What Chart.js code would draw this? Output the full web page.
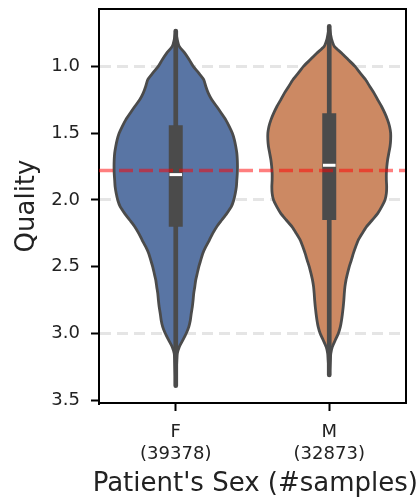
<!DOCTYPE html>
<html>
<head>
<meta charset="utf-8">
<script src="https://cdn.jsdelivr.net/npm/chart.js@4/dist/chart.umd.min.js"></script>
<style>
  html, body { margin: 0; padding: 0; background: #fff; }
  #wrap { width: 418px; height: 500px; position: relative; }
</style>
</head>
<body>
<div id="wrap"><canvas id="qualityChart"></canvas></div>
<script>
const categories = ['F', 'M'];
const sampleCounts = [39378, 32873];

// violin outlines: quality value -> half width (in category units)
const fQuality = [0.735, 0.80, 0.85, 0.90, 0.95, 1.00, 1.05, 1.10, 1.15, 1.20, 1.25, 1.30, 1.35, 1.40, 1.45,
  1.50, 1.55, 1.60, 1.65, 1.70, 1.75, 1.80, 1.85, 1.90, 1.95, 2.00, 2.05, 2.10, 2.15, 2.20, 2.25, 2.30,
  2.35, 2.40, 2.45, 2.50, 2.55, 2.60, 2.65, 2.70, 2.75, 2.80, 2.85, 2.90, 2.95, 3.00, 3.05, 3.10, 3.15,
  3.20, 3.30, 3.39];
const fHalfWidth = [0.000, 0.010, 0.023, 0.059, 0.088, 0.114, 0.150, 0.183, 0.196, 0.212, 0.235, 0.267, 0.297,
  0.326, 0.349, 0.369, 0.382, 0.391, 0.398, 0.401, 0.402, 0.401, 0.398, 0.395, 0.388, 0.378, 0.362, 0.333,
  0.300, 0.267, 0.241, 0.219, 0.196, 0.176, 0.163, 0.150, 0.140, 0.130, 0.124, 0.117, 0.113, 0.108, 0.101,
  0.095, 0.085, 0.068, 0.046, 0.023, 0.010, 0.007, 0.003, 0.000];

const mQuality = [0.70, 0.75, 0.80, 0.85, 0.90, 0.95, 1.00, 1.05, 1.10, 1.15, 1.20, 1.25, 1.30, 1.35, 1.40,
  1.45, 1.50, 1.55, 1.60, 1.65, 1.70, 1.75, 1.80, 1.85, 1.90, 1.95, 2.00, 2.05, 2.10, 2.15, 2.20, 2.25,
  2.30, 2.35, 2.40, 2.45, 2.50, 2.55, 2.60, 2.65, 2.70, 2.75, 2.80, 2.85, 2.90, 2.95, 3.00, 3.05, 3.10,
  3.15, 3.20, 3.31];
const mHalfWidth = [0.000, 0.007, 0.016, 0.033, 0.080, 0.124, 0.168, 0.202, 0.237, 0.264, 0.292, 0.316, 0.341,
  0.362, 0.380, 0.393, 0.400, 0.400, 0.396, 0.388, 0.380, 0.375, 0.372, 0.372, 0.374, 0.372, 0.363, 0.342,
  0.316, 0.280, 0.243, 0.215, 0.189, 0.172, 0.157, 0.144, 0.130, 0.119, 0.109, 0.102, 0.098, 0.095, 0.091,
  0.086, 0.080, 0.072, 0.059, 0.039, 0.020, 0.010, 0.007, 0.000];

// inner box stats per category
const q1 = [1.44, 1.35];
const medians = [1.81, 1.74];
const q3 = [2.20, 2.15];
const whiskerLow = [0.735, 0.70];
const whiskerHigh = [3.39, 3.31];

const meanQuality = 1.78;
const yTicks = [1.0, 1.5, 2.0, 2.5, 3.0, 3.5];
const gridValues = [1.0, 2.0, 3.0];

const violinColors = ['#5975a4', '#cc8963'];
const darkGray = '#4b4b4b';
const FONT = 'DejaVu Sans';

function outline(center, quality, halfWidth) {
  const right = quality.map((q, i) => ({x: center + halfWidth[i], y: q}));
  const left = quality.map((q, i) => ({x: center - halfWidth[i], y: q})).reverse();
  return right.concat(left);
}

const datasets = [];

// mean line on top of everything
datasets.push({
  data: [{x: -0.5, y: meanQuality}, {x: 1.5, y: meanQuality}],
  borderColor: 'rgba(255, 0, 0, 0.5)',
  borderWidth: 3.5,
  borderDash: [14, 6],
  order: 0
});

categories.forEach((cat, i) => {
  datasets.push({
    data: [{x: i - 0.041, y: medians[i]}, {x: i + 0.041, y: medians[i]}],
    borderColor: '#ffffff',
    borderWidth: 3,
    order: 1
  });
  datasets.push({
    data: [{x: i, y: q1[i]}, {x: i, y: q3[i]}],
    borderColor: darkGray,
    borderWidth: 14,
    order: 2
  });
  datasets.push({
    data: [{x: i, y: whiskerLow[i]}, {x: i, y: whiskerHigh[i]}],
    borderColor: darkGray,
    borderWidth: 4.7,
    borderCapStyle: 'round',
    order: 3
  });
});

datasets.push({
  data: outline(0, fQuality, fHalfWidth),
  backgroundColor: violinColors[0],
  borderColor: darkGray,
  borderWidth: 2.8,
  fill: 'shape',
  tension: 0.2,
  order: 4
});
datasets.push({
  data: outline(1, mQuality, mHalfWidth),
  backgroundColor: violinColors[1],
  borderColor: darkGray,
  borderWidth: 2.8,
  fill: 'shape',
  tension: 0.2,
  order: 4
});

// top and right spines
const frame = {
  id: 'frame',
  afterDatasetsDraw(chart) {
    const {ctx, chartArea: a} = chart;
    ctx.save();
    ctx.strokeStyle = '#000';
    ctx.lineWidth = 2;
    ctx.beginPath();
    ctx.moveTo(a.left, a.top);
    ctx.lineTo(a.right, a.top);
    ctx.lineTo(a.right, a.bottom);
    ctx.stroke();
    ctx.restore();
  }
};

new Chart(document.getElementById('qualityChart'), {
  type: 'scatter',
  data: {datasets: datasets.map(d => Object.assign({showLine: true, pointRadius: 0, pointHoverRadius: 0}, d))},
  options: {
    responsive: true,
    maintainAspectRatio: false,
    animation: false,
    layout: {padding: {top: 9, right: 0, left: 0, bottom: 0}},
    plugins: {
      legend: {display: false},
      tooltip: {enabled: false},
      // x axis caption, wider than the plot so it goes through the title plugin
      title: {
        display: true,
        position: 'bottom',
        align: 'end',
        text: "Patient's Sex (#samples)",
        color: '#222',
        font: {family: FONT, size: 26, weight: 'normal', lineHeight: 1.2},
        padding: {top: 0, bottom: 0}
      }
    },
    scales: {
      x: {
        type: 'linear',
        min: -0.5,
        max: 1.5,
        afterBuildTicks: s => { s.ticks = categories.map((c, i) => ({value: i})); },
        afterFit: s => { s.height = 65.8; s.paddingLeft = 0; s.paddingRight = 0; },
        grid: {drawOnChartArea: false, tickLength: 8, tickWidth: 2, tickColor: '#000'},
        border: {color: '#000', width: 2},
        ticks: {
          color: '#222',
          font: {family: FONT, size: 18, lineHeight: 1.2},
          padding: 11,
          maxRotation: 0,
          callback: v => [categories[v], '(' + sampleCounts[v] + ')']
        }
      },
      y: {
        type: 'linear',
        reverse: true,
        min: 0.57,
        max: 3.52,
        afterBuildTicks: s => { s.ticks = yTicks.map(v => ({value: v})); },
        afterFit: s => { s.width = 99; s.paddingTop = 0; s.paddingBottom = 0; },
        grid: {
          color: c => gridValues.includes(c.tick && c.tick.value) ? '#e5e5e5' : 'rgba(0,0,0,0)',
          lineWidth: 3,
          tickLength: 8,
          tickWidth: 2,
          tickColor: '#000'
        },
        border: {color: '#000', width: 2, dash: [11, 6]},
        ticks: {
          color: '#222',
          font: {family: FONT, size: 18},
          padding: 11,
          callback: v => v.toFixed(1)
        },
        title: {
          display: true,
          text: 'Quality',
          color: '#222',
          font: {family: FONT, size: 26},
          padding: {top: 12, bottom: 0}
        }
      },
      // empty right gutter
      y2: {
        type: 'linear',
        position: 'right',
        min: 0,
        max: 1,
        afterFit: s => { s.width = 12; s.paddingTop = 0; s.paddingBottom = 0; },
        grid: {display: false},
        border: {display: false},
        ticks: {display: false}
      }
    }
  },
  plugins: [frame]
});
</script>
</body>
</html>
